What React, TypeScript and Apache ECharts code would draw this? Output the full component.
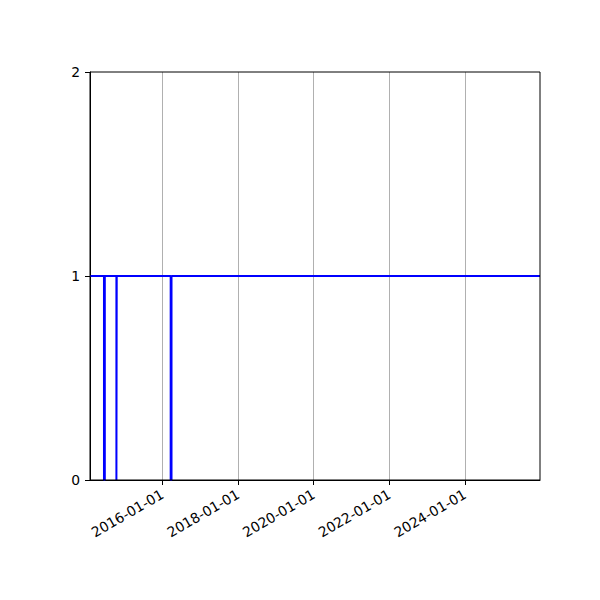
import React, { useEffect, useRef } from "react";
import * as echarts from "echarts";

// ---- data ----
const rangeStart = "2014-02-01";
const rangeEnd = "2025-12-25";
const dropStarts = ["2014-06-16", "2014-10-14", "2016-03-21"];
const dropEnds = ["2014-06-24", "2014-10-17", "2016-03-29"];
const baseLevel = 1;
const dropLevel = 0;
const xTickDates = ["2016-01-01", "2018-01-01", "2020-01-01", "2022-01-01", "2024-01-01"];
const yTicks = [0, 1, 2];

const ts = (s: string) => {
  const [y, m, d] = s.split("-").map(Number);
  return Date.UTC(y, m - 1, d);
};
const fmt = (v: number) => {
  const d = new Date(v);
  const p = (n: number) => String(n).padStart(2, "0");
  return `${d.getUTCFullYear()}-${p(d.getUTCMonth() + 1)}-${p(d.getUTCDate())}`;
};

export default function App() {
  const ref = useRef<HTMLDivElement>(null);
  useEffect(() => {
    if (!ref.current) return;
    const chart = echarts.init(ref.current, null, { renderer: "svg" });
    const data: [number, number][] = [[ts(rangeStart), baseLevel]];
    dropStarts.forEach((s, i) => {
      data.push([ts(s), baseLevel]);
      data.push([ts(s), dropLevel]);
      data.push([ts(dropEnds[i]), dropLevel]);
      data.push([ts(dropEnds[i]), baseLevel]);
    });
    data.push([ts(rangeEnd), baseLevel]);
    const xTicks = xTickDates.map(ts);
    const font = "DejaVu Sans";
    chart.setOption({
      animation: false,
      grid: { left: 90, right: 60, top: 72, bottom: 120, containLabel: false },
      xAxis: {
        type: "value",
        min: ts(rangeStart),
        max: ts(rangeEnd),
        axisLine: { show: true, lineStyle: { color: "#000", width: 1 } },
        axisTick: { show: true, length: 5, inside: false, lineStyle: { color: "#000", width: 1 }, customValues: xTicks },
        axisLabel: {
          customValues: xTicks,
          formatter: (v: number) => fmt(v),
          rotate: 30,
          margin: 13,
          color: "#000",
          fontSize: 13.9,
          fontFamily: font,
          showMinLabel: true,
          showMaxLabel: true,
        },
        splitLine: { show: true, lineStyle: { color: "#b0b0b0", width: 1 } },
      },
      yAxis: {
        type: "value",
        min: yTicks[0],
        max: yTicks[yTicks.length - 1],
        interval: 1,
        axisLine: { show: true, lineStyle: { color: "#000", width: 1 } },
        axisTick: { show: true, length: 5, lineStyle: { color: "#000", width: 1 } },
        axisLabel: { color: "#000", fontSize: 13.9, fontFamily: font, margin: 10 },
        splitLine: { show: false },
      },
      graphic: [
        {
          type: "rect",
          shape: { x: 90, y: 72, width: 450, height: 408 },
          style: { fill: "none", stroke: "#000", lineWidth: 1 },
          z: 100,
          silent: true,
        },
      ],
      series: [
        {
          type: "line",
          data,
          showSymbol: false,
          symbol: "none",
          lineStyle: { color: "#0000ff", width: 2 },
          clip: true,
        },
      ],
    });
    return () => chart.dispose();
  }, []);
  return (
    <div
      ref={ref}
      style={{ position: "absolute", left: 0, top: 0, width: 600, height: 600, background: "#fff" }}
    />
  );
}
